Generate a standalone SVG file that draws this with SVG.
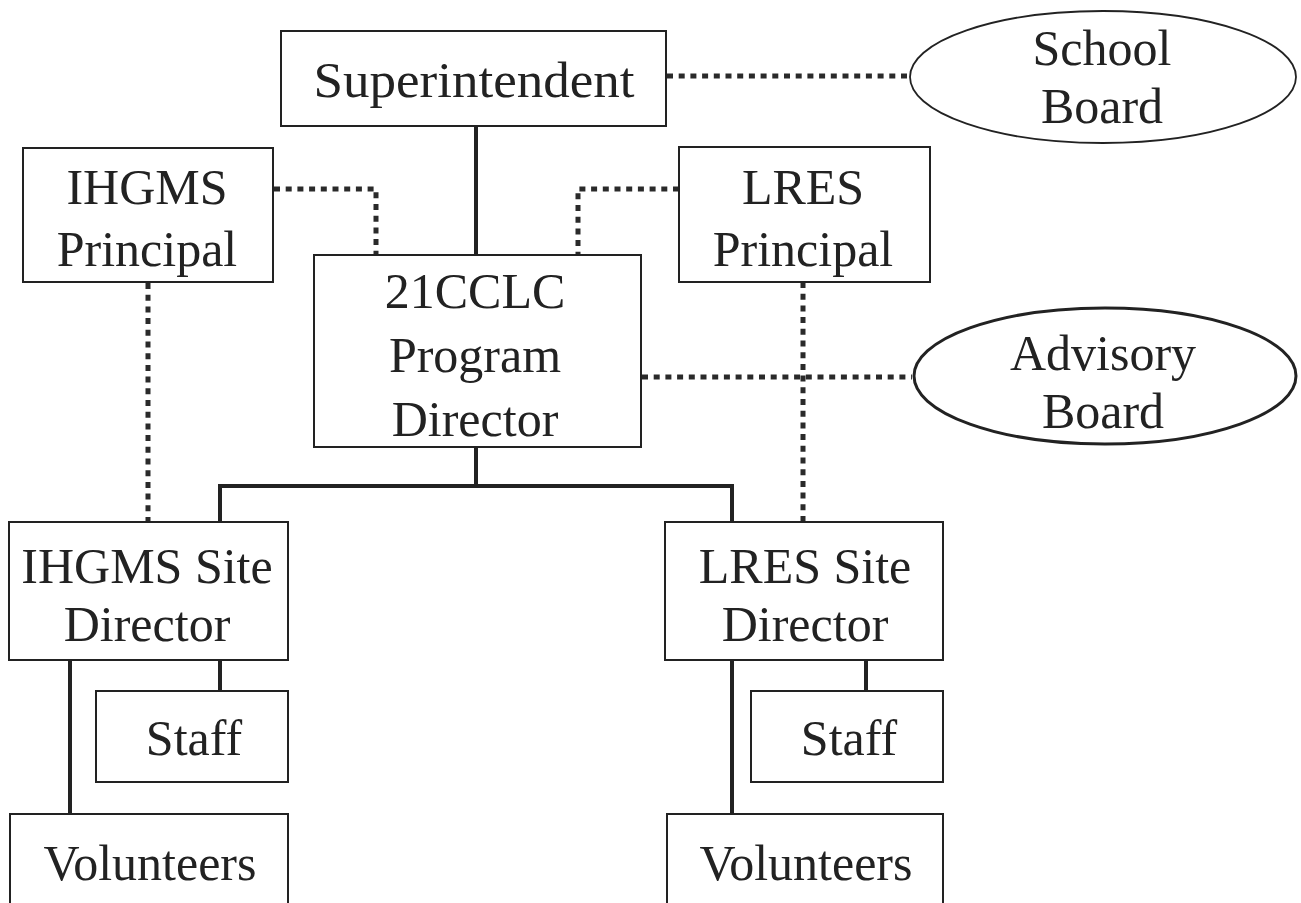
<svg xmlns="http://www.w3.org/2000/svg" width="1301" height="903" viewBox="0 0 1301 903">
<style>
.box{fill:#fff;stroke:#222;stroke-width:2}
.t{font-family:"Liberation Serif","Times New Roman",serif;font-size:50px;fill:#222;text-anchor:middle}
.solid{fill:none;stroke:#222;stroke-width:4}
.dot{fill:none;stroke:#2a2a2a;stroke-width:5;stroke-dasharray:6 5.7}
</style>
<rect width="1301" height="903" fill="#fff"/>
<g id="connectors">
<line class="solid" x1="476" y1="126" x2="476" y2="255"/>
<polyline class="solid" points="476,447 476,486 220,486 220,522"/>
<polyline class="solid" points="476,486 732,486 732,522"/>
<line class="solid" x1="220" y1="660" x2="220" y2="690"/>
<line class="solid" x1="70" y1="660" x2="70" y2="815"/>
<line class="solid" x1="866" y1="660" x2="866" y2="690"/>
<line class="solid" x1="732" y1="660" x2="732" y2="815"/>
<line class="dot" x1="667" y1="76" x2="910" y2="76"/>
<polyline class="dot" points="274,189 376,189 376,255"/>
<polyline class="dot" points="679,189 578,189 578,255"/>
<line class="dot" x1="642" y1="377" x2="912" y2="377"/>
<line class="dot" x1="148" y1="283" x2="148" y2="522"/>
<line class="dot" x1="803" y1="282" x2="803" y2="522"/>
</g>
<g id="superintendent"><rect class="box" x="281" y="31" width="385" height="95"/><text class="t" x="474" y="97" font-size="53" textLength="321" lengthAdjust="spacingAndGlyphs">Superintendent</text></g>
<g id="school-board"><ellipse cx="1103" cy="77" rx="193" ry="66" fill="#fff" stroke="#222" stroke-width="1.8"/><text class="t" x="1102" y="65" font-size="52">School</text><text class="t" x="1102" y="123" font-size="52">Board</text></g>
<g id="ihgms-principal"><rect class="box" x="23" y="148" width="250" height="134"/><text class="t" x="147" y="204">IHGMS</text><text class="t" x="147" y="266">Principal</text></g>
<g id="lres-principal"><rect class="box" x="679" y="147" width="251" height="135"/><text class="t" x="803" y="204">LRES</text><text class="t" x="803" y="266">Principal</text></g>
<g id="program-director"><rect class="box" x="314" y="255" width="327" height="192"/><text class="t" x="475" y="308">21CCLC</text><text class="t" x="475" y="372">Program</text><text class="t" x="475" y="436">Director</text></g>
<g id="advisory-board"><ellipse cx="1105" cy="376" rx="191" ry="68" fill="#fff" stroke="#222" stroke-width="3"/><text class="t" x="1103" y="370">Advisory</text><text class="t" x="1103" y="428">Board</text></g>
<g id="ihgms-site-director"><rect class="box" x="9" y="522" width="279" height="138"/><text class="t" x="147" y="583">IHGMS Site</text><text class="t" x="147" y="641">Director</text></g>
<g id="lres-site-director"><rect class="box" x="665" y="522" width="278" height="138"/><text class="t" x="805" y="583">LRES Site</text><text class="t" x="805" y="641">Director</text></g>
<g id="ihgms-staff"><rect class="box" x="96" y="691" width="192" height="91"/><text class="t" x="194" y="755">Staff</text></g>
<g id="lres-staff"><rect class="box" x="751" y="691" width="192" height="91"/><text class="t" x="849" y="755">Staff</text></g>
<g id="ihgms-volunteers"><rect class="box" x="10" y="814" width="278" height="100"/><text class="t" x="150" y="880">Volunteers</text></g>
<g id="lres-volunteers"><rect class="box" x="667" y="814" width="276" height="100"/><text class="t" x="806" y="880">Volunteers</text></g>
</svg>
